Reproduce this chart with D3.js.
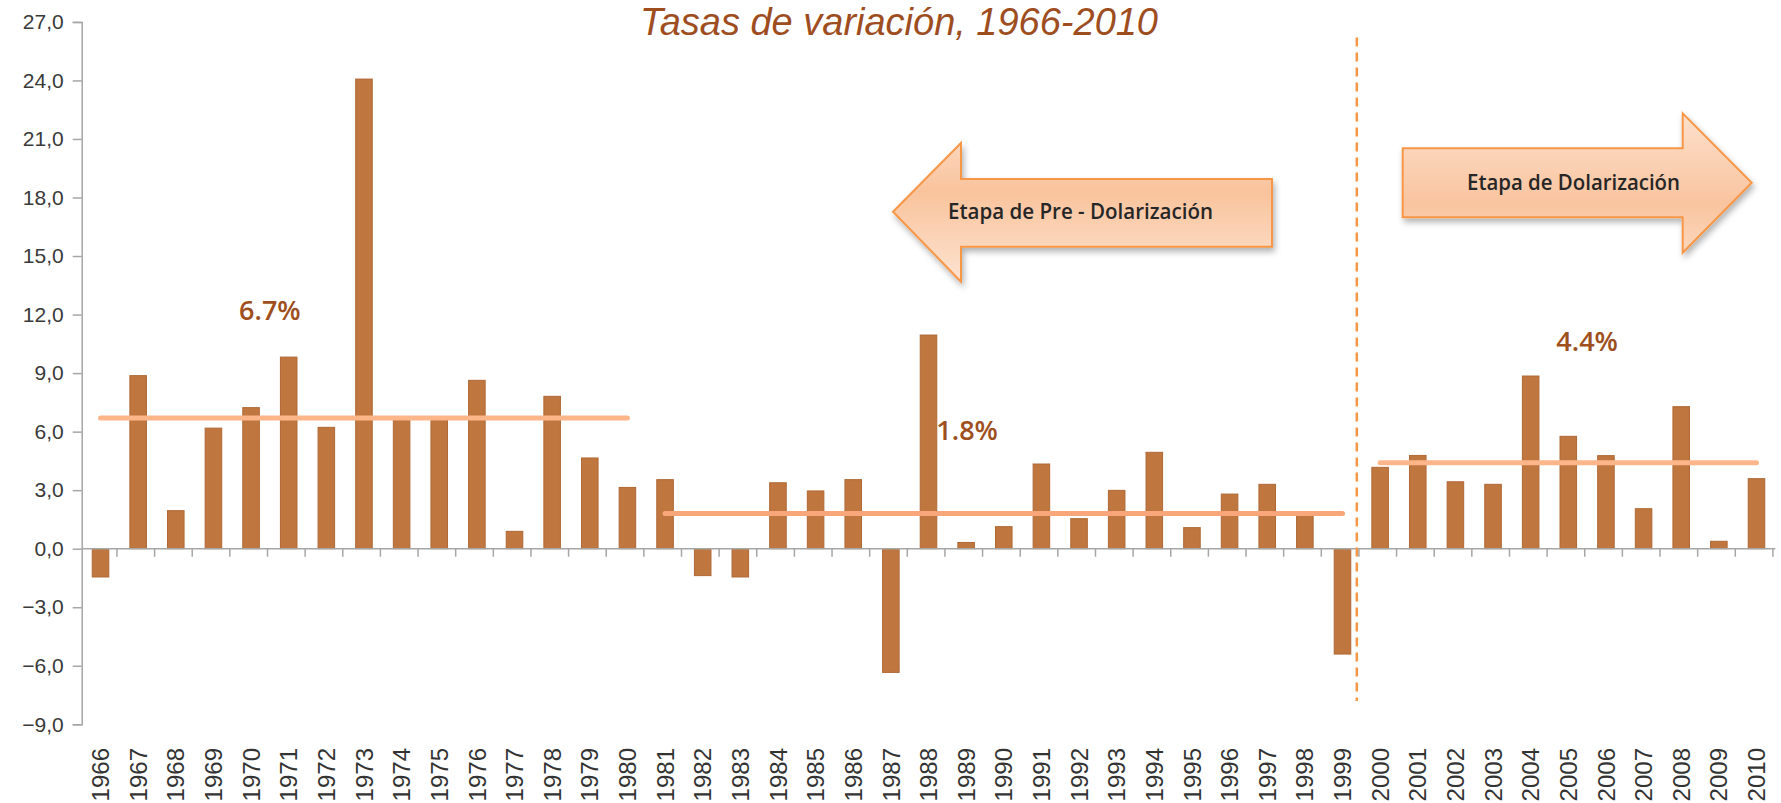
<!DOCTYPE html>
<html>
<head>
<meta charset="utf-8">
<script src="https://d3js.org/d3.v7.min.js"></script>
<style>
  body { margin: 0; background: #fff; }
  svg { display: block; }
</style>
</head>
<body>
<svg id="chart"></svg>
<script>
// annual growth rates, 1966-2010
var years = d3.range(1966, 2011);
var rates = [
  -1.45, 8.87, 1.95, 6.18, 7.23, 9.82, 6.22, 24.07, 6.6, 6.6,
  8.63, 0.89, 7.81, 4.65, 3.14, 3.54, -1.38, -1.45, 3.38, 2.96,
  3.54, -6.34, 10.95, 0.32, 1.13, 4.34, 1.54, 2.99, 4.94, 1.08,
  2.8, 3.3, 1.7, -5.4, 4.17, 4.78, 3.43, 3.3, 8.85, 5.76,
  4.77, 2.05, 7.28, 0.38, 3.59
];

// averages per period
var periodStart = [1966, 1981, 2000];
var periodEnd = [1980, 1999, 2010];
var periodMean = [6.7, 1.8, 4.4];
var periodLabel = ["6.7%", "1.8%", "4.4%"];

var yTicks = d3.range(-9, 28, 3);

var screen = {width: 1781, height: 803};

var svg = d3.select("#chart")
    .attr("width", screen.width)
    .attr("height", screen.height);

var xScale = d3.scaleBand()
    .domain(years)
    .range([81.7, 1775.3])
    .paddingInner(0.56)
    .paddingOuter(0.28);

var yScale = d3.scaleLinear()
    .domain([-9, 27])
    .range([724.3, 21.9]);

var bw = xScale.step();
var center = function(yr) { return xScale(yr) + xScale.bandwidth() / 2; };

// defs: gradients and shadow for the arrows
var defs = svg.append("defs");
var shadow = defs.append("filter").attr("id", "shadow")
    .attr("x", "-10%").attr("y", "-20%").attr("width", "130%").attr("height", "150%");
shadow.append("feDropShadow")
    .attr("dx", 2).attr("dy", 4).attr("stdDeviation", 3)
    .attr("flood-color", "#000").attr("flood-opacity", 0.3);

var gradL = defs.append("linearGradient").attr("id", "gradL")
    .attr("x1", 0).attr("y1", 0).attr("x2", 0).attr("y2", 1);
gradL.append("stop").attr("offset", "0%").attr("stop-color", "#fcd6bb");
gradL.append("stop").attr("offset", "35%").attr("stop-color", "#f9c39c");
gradL.append("stop").attr("offset", "100%").attr("stop-color", "#fde3d1");

var gradR = defs.append("linearGradient").attr("id", "gradR")
    .attr("x1", 0).attr("y1", 0).attr("x2", 0).attr("y2", 1);
gradR.append("stop").attr("offset", "0%").attr("stop-color", "#fde0cc");
gradR.append("stop").attr("offset", "65%").attr("stop-color", "#f9c49f");
gradR.append("stop").attr("offset", "100%").attr("stop-color", "#fcd7bd");

// title at the very top edge
svg.append("text")
    .attr("x", 640)
    .attr("y", 35)
    .attr("textLength", 518)
    .attr("lengthAdjust", "spacingAndGlyphs")
    .style("font-family", "'Liberation Sans Narrow', 'Liberation Sans', Arial, sans-serif")
    .style("font-style", "italic")
    .style("font-size", "38px")
    .style("fill", "#9e4d1f")
    .text("Tasas de variación, 1966-2010");

// y axis
var yAxis = d3.axisLeft(yScale)
    .tickValues(yTicks)
    .tickSize(9)
    .tickPadding(9)
    .tickFormat(function(d) { return d3.format(".1f")(d).replace(".", ","); });

var gy = svg.append("g")
    .attr("transform", "translate(81.7,0)")
    .call(yAxis);
gy.select(".domain").attr("stroke", "#a6a6a6").attr("stroke-width", 1.5);
gy.selectAll(".tick line").attr("stroke", "#a6a6a6").attr("stroke-width", 1.5);
gy.selectAll(".tick text")
    .style("font-family", "'Liberation Sans', Arial, sans-serif")
    .style("font-size", "21px")
    .style("fill", "#3a3a3a");

// bars
svg.append("g")
    .selectAll("rect")
    .data(years)
    .enter()
    .append("rect")
    .attr("x", function(d) { return xScale(d); })
    .attr("width", xScale.bandwidth())
    .attr("y", function(d, i) { return yScale(Math.max(0, rates[i])); })
    .attr("height", function(d, i) { return Math.abs(yScale(rates[i]) - yScale(0)); })
    .attr("fill", "#bf763f")
    .attr("stroke", "#b06835")
    .attr("stroke-width", 1);

// x axis: line at zero, ticks between the bars
var gx = svg.append("g");
gx.append("line")
    .attr("x1", 81.7).attr("x2", 1775.3)
    .attr("y1", yScale(0)).attr("y2", yScale(0))
    .attr("stroke", "#a6a6a6").attr("stroke-width", 1.5);
gx.selectAll(".sep")
    .data(years)
    .enter()
    .append("line")
    .attr("class", "sep")
    .attr("x1", function(d) { return xScale(d) - xScale.bandwidth() * 0.78 + bw; })
    .attr("x2", function(d) { return xScale(d) - xScale.bandwidth() * 0.78 + bw; })
    .attr("y1", yScale(0)).attr("y2", yScale(0) + 8)
    .attr("stroke", "#a6a6a6").attr("stroke-width", 1.5);

gx.selectAll(".yr")
    .data(years)
    .enter()
    .append("text")
    .attr("class", "yr")
    .attr("transform", function(d) { return "translate(" + center(d) + ",748) rotate(-90)"; })
    .attr("dy", "0.36em")
    .attr("text-anchor", "end")
    .style("font-family", "'Liberation Sans', Arial, sans-serif")
    .style("font-size", "24px")
    .style("fill", "#333")
    .text(function(d) { return d; });

// period average lines
var lineColors = ["#fdb68a", "#f9a67a", "#fdb68a"];
svg.append("g")
    .selectAll("line")
    .data(periodMean)
    .enter()
    .append("line")
    .attr("x1", function(d, i) { return center(periodStart[i]); })
    .attr("x2", function(d, i) { return center(periodEnd[i]); })
    .attr("y1", function(d) { return yScale(d); })
    .attr("y2", function(d) { return yScale(d); })
    .attr("stroke", function(d, i) { return lineColors[i]; })
    .attr("stroke-width", 5)
    .attr("stroke-linecap", "round");

// period labels
var labelX = [xScale(1971) - (bw - xScale.bandwidth()) / 2, center(1989) + 1, xScale(2006) - (bw - xScale.bandwidth()) / 2];
var labelY = [11.7, 5.57, 10.15];
svg.append("g")
    .selectAll("text")
    .data(periodLabel)
    .enter()
    .append("text")
    .attr("x", function(d, i) { return labelX[i]; })
    .attr("y", function(d, i) { return yScale(labelY[i]); })
    .attr("text-anchor", "middle")
    .style("font-family", "'Open Sans', sans-serif")
    .style("font-weight", "600")
    .style("font-size", "27px")
    .style("fill", "#9e4f20")
    .text(function(d) { return d; });

// dashed separator at the start of dollarization
svg.append("line")
    .attr("x1", xScale(2000) - (bw - xScale.bandwidth()) / 2 - 4.5)
    .attr("x2", xScale(2000) - (bw - xScale.bandwidth()) / 2 - 4.5)
    .attr("y1", yScale(26.2))
    .attr("y2", yScale(-7.8))
    .attr("stroke", "#f79646")
    .attr("stroke-width", 2.5)
    .attr("stroke-dasharray", "9,6");

// arrows
var arrowL = "M893,211.7 L961,143 L961,179 L1272,179 L1272,246.7 L961,246.7 L961,281.7 Z";
var arrowR = "M1402.7,148.3 L1682.7,148.3 L1682.7,113.3 L1751.7,182.7 L1682.7,252.7 L1682.7,217.3 L1402.7,217.3 Z";

svg.append("path")
    .attr("d", arrowL)
    .attr("fill", "url(#gradL)")
    .attr("stroke", "#f79646")
    .attr("stroke-width", 2)
    .attr("filter", "url(#shadow)");

svg.append("path")
    .attr("d", arrowR)
    .attr("fill", "url(#gradR)")
    .attr("stroke", "#f79646")
    .attr("stroke-width", 2)
    .attr("filter", "url(#shadow)");

svg.append("text")
    .attr("x", 948).attr("y", 219)
    .attr("textLength", 265)
    .attr("lengthAdjust", "spacingAndGlyphs")
    .style("font-family", "'Open Sans', sans-serif")
    .style("font-weight", "600")
    .style("font-size", "22px")
    .style("fill", "#262626")
    .text("Etapa de Pre - Dolarización");

svg.append("text")
    .attr("x", 1467).attr("y", 190)
    .attr("textLength", 213)
    .attr("lengthAdjust", "spacingAndGlyphs")
    .style("font-family", "'Open Sans', sans-serif")
    .style("font-weight", "600")
    .style("font-size", "22px")
    .style("fill", "#262626")
    .text("Etapa de Dolarización");
</script>
</body>
</html>
